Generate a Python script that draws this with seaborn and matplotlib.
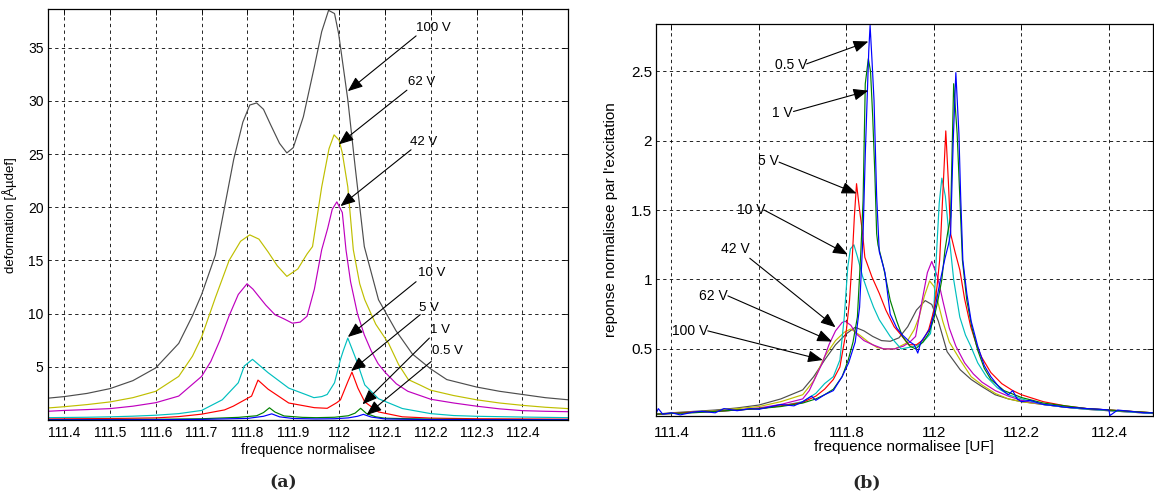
"""Réponse en fréquence : (a) déformation brute, (b) réponse normalisée par l'excitation."""

from __future__ import annotations

import matplotlib

matplotlib.use("Agg")
import matplotlib.pyplot as plt
import seaborn as sns


# ---------------------------------------------------------------- (a) déformation
A_100V_X = [111.364, 111.40, 111.45, 111.50, 111.55, 111.60, 111.65, 111.68, 111.70, 111.73, 111.75, 111.77,
            111.79, 111.805, 111.82, 111.835, 111.85, 111.87, 111.886, 111.90, 111.922, 111.946, 111.962,
            111.977, 111.99, 111.999, 112.019, 112.035, 112.055, 112.086, 112.124, 112.16, 112.20, 112.235,
            112.30, 112.35, 112.40, 112.45, 112.50]
A_100V_Y = [2.05, 2.2, 2.5, 2.95, 3.7, 4.9, 7.2, 9.8, 11.8, 15.5, 20.0, 24.5,
            28.0, 29.6, 29.8, 29.2, 27.8, 26.0, 25.1, 25.6, 28.5, 33.2, 36.5,
            38.5, 38.2, 36.3, 30.1, 23.8, 16.3, 11.3, 8.4, 6.2, 4.8, 3.8,
            3.1, 2.7, 2.4, 2.1, 1.9]

A_62V_X = [111.364, 111.40, 111.45, 111.50, 111.55, 111.60, 111.65, 111.68, 111.70, 111.73, 111.76, 111.785,
           111.805, 111.825, 111.845, 111.865, 111.886, 111.91, 111.93, 111.942, 111.962, 111.978, 111.989,
           112.0, 112.007, 112.019, 112.031, 112.045, 112.056, 112.08, 112.108, 112.13, 112.151, 112.176,
           112.20, 112.25, 112.30, 112.35, 112.40, 112.45, 112.50]
A_62V_Y = [1.13, 1.25, 1.45, 1.7, 2.1, 2.7, 4.1, 6.0, 7.8, 11.5, 15.0, 16.8,
           17.4, 17.0, 15.8, 14.5, 13.5, 14.2, 15.6, 16.3, 21.9, 25.5, 26.8,
           26.3, 25.1, 21.9, 16.0, 12.8, 11.3, 9.0, 7.2, 5.2, 3.8, 3.3,
           2.8, 2.3, 1.9, 1.6, 1.38, 1.2, 1.07]

A_42V_X = [111.364, 111.40, 111.45, 111.50, 111.55, 111.60, 111.65, 111.70, 111.72, 111.74, 111.76, 111.78,
           111.799, 111.812, 111.825, 111.84, 111.86, 111.88, 111.898, 111.915, 111.93, 111.946, 111.962,
           111.975, 111.985, 111.995, 112.007, 112.015, 112.025, 112.04, 112.055, 112.07, 112.085, 112.10,
           112.125, 112.15, 112.20, 112.25, 112.30, 112.35, 112.40, 112.45, 112.50]
A_42V_Y = [0.82, 0.9, 0.98, 1.07, 1.3, 1.63, 2.25, 4.1, 5.5, 7.5, 9.8, 11.8,
           12.8, 12.3, 11.6, 10.8, 9.9, 9.5, 9.1, 9.2, 9.75, 12.3, 16.0,
           18.0, 19.8, 20.5, 19.5, 16.0, 13.0, 10.0, 8.0, 6.5, 5.3, 4.5,
           3.4, 2.7, 1.95, 1.6, 1.3, 1.05, 0.88, 0.82, 0.78]

A_10V_X = [111.364, 111.45, 111.50, 111.55, 111.60, 111.65, 111.70, 111.745, 111.78, 111.793, 111.811, 111.845,
           111.89, 111.93, 111.945, 111.962, 111.974, 111.99, 112.003, 112.009, 112.019, 112.038, 112.056,
           112.086, 112.138, 112.20, 112.25, 112.30, 112.40, 112.50]
A_10V_Y = [0.22, 0.26, 0.3, 0.36, 0.45, 0.6, 0.9, 1.9, 3.5, 5.07, 5.7, 4.45,
           3.0, 2.35, 2.1, 2.2, 2.4, 3.5, 5.7, 6.5, 7.7, 5.6, 3.3,
           2.0, 1.08, 0.6, 0.42, 0.35, 0.28, 0.22]

A_5V_X = [111.364, 111.50, 111.60, 111.65, 111.70, 111.75, 111.769, 111.809, 111.823, 111.845, 111.89, 111.946,
          111.974, 111.995, 112.003, 112.019, 112.028, 112.041, 112.056, 112.086, 112.138, 112.20, 112.30,
          112.40, 112.50]
A_5V_Y = [0.1, 0.14, 0.2, 0.32, 0.55, 0.95, 1.3, 2.25, 3.75, 2.9, 1.6, 1.16,
          1.1, 1.63, 1.9, 3.6, 4.5, 3.0, 1.7, 0.76, 0.3, 0.18, 0.12,
          0.1, 0.08]

A_1V_X = [111.364, 111.50, 111.60, 111.70, 111.78, 111.82, 111.835, 111.848, 111.86, 111.88, 111.92, 111.95,
          111.99, 112.02, 112.035, 112.047, 112.06, 112.08, 112.10, 112.20, 112.30, 112.50]
A_1V_Y = [0.04, 0.05, 0.07, 0.12, 0.25, 0.4, 0.7, 1.15, 0.75, 0.38, 0.25, 0.22,
          0.26, 0.4, 0.65, 1.1, 0.6, 0.3, 0.17, 0.08, 0.05, 0.04]

A_05V_X = [111.364, 111.50, 111.60, 111.70, 111.80, 111.835, 111.853, 111.87, 111.90, 111.95, 111.99, 112.02,
           112.04, 112.053, 112.07, 112.10, 112.20, 112.30, 112.50]
A_05V_Y = [0.02, 0.025, 0.03, 0.06, 0.15, 0.35, 0.58, 0.3, 0.14, 0.1, 0.12, 0.2,
           0.35, 0.53, 0.28, 0.1, 0.04, 0.03, 0.02]

# ---------------------------------------------------------- (b) réponse normalisée
B_100V_X = [111.364, 111.40, 111.45, 111.50, 111.55, 111.60, 111.65, 111.70, 111.725, 111.75, 111.775, 111.80,
            111.82, 111.84, 111.86, 111.88, 111.90, 111.92, 111.94, 111.96, 111.98, 111.995, 112.01, 112.03,
            112.06, 112.085, 112.109, 112.14, 112.17, 112.20, 112.25, 112.30, 112.35, 112.40, 112.45, 112.50]
B_100V_Y = [0.03, 0.04, 0.05, 0.06, 0.075, 0.096, 0.14, 0.205, 0.30, 0.42, 0.53, 0.61,
            0.656, 0.63, 0.59, 0.56, 0.555, 0.58, 0.66, 0.78, 0.848, 0.82, 0.70, 0.48,
            0.35, 0.28, 0.23, 0.17, 0.14, 0.12, 0.10, 0.08, 0.07, 0.06, 0.05, 0.04]

B_62V_X = [111.364, 111.40, 111.45, 111.50, 111.55, 111.60, 111.65, 111.70, 111.725, 111.75, 111.775, 111.795,
           111.81, 111.83, 111.85, 111.87, 111.886, 111.91, 111.936, 111.955, 111.966, 111.978, 111.99,
           112.0, 112.008, 112.02, 112.035, 112.06, 112.085, 112.11, 112.14, 112.17, 112.20, 112.25, 112.30,
           112.35, 112.40, 112.45, 112.50]
B_62V_Y = [0.03, 0.038, 0.045, 0.055, 0.07, 0.085, 0.12, 0.17, 0.27, 0.445, 0.56, 0.62,
           0.644, 0.60, 0.55, 0.51, 0.50, 0.50, 0.54, 0.64, 0.73, 0.88, 0.99,
           0.95, 0.85, 0.70, 0.55, 0.42, 0.30, 0.24, 0.18, 0.14, 0.12, 0.10, 0.08,
           0.065, 0.055, 0.045, 0.035]

B_42V_X = [111.364, 111.40, 111.45, 111.50, 111.55, 111.60, 111.65, 111.70, 111.715, 111.73, 111.745, 111.76,
           111.775, 111.79, 111.797, 111.81, 111.822, 111.84, 111.86, 111.885, 111.91, 111.93, 111.945,
           111.958, 111.973, 111.985, 111.995, 112.008, 112.02, 112.035, 112.05, 112.07, 112.09, 112.11,
           112.14, 112.17, 112.20, 112.25, 112.30, 112.35, 112.40, 112.45, 112.50]
B_42V_Y = [0.03, 0.035, 0.045, 0.05, 0.06, 0.075, 0.10, 0.14, 0.20, 0.30, 0.40, 0.53,
           0.63, 0.69, 0.70, 0.67, 0.61, 0.56, 0.53, 0.50, 0.50, 0.52, 0.55,
           0.59, 0.85, 1.05, 1.13, 1.02, 0.85, 0.65, 0.52, 0.40, 0.32, 0.26,
           0.20, 0.16, 0.13, 0.10, 0.08, 0.065, 0.055, 0.045, 0.035]

B_10V_X = [111.364, 111.40, 111.45, 111.50, 111.55, 111.60, 111.65, 111.70, 111.73, 111.75, 111.77, 111.785,
           111.795, 111.803, 111.809, 111.817, 111.825, 111.837, 111.85, 111.862, 111.875, 111.90, 111.925,
           111.958, 111.975, 111.992, 112.0, 112.005, 112.012, 112.018, 112.026, 112.034, 112.045, 112.059,
           112.072, 112.084, 112.10, 112.12, 112.145, 112.17, 112.20, 112.25, 112.30, 112.35, 112.40, 112.45,
           112.50]
B_10V_Y = [0.03, 0.035, 0.045, 0.05, 0.06, 0.07, 0.09, 0.12, 0.18, 0.25, 0.30, 0.42,
           0.73, 1.09, 1.22, 1.25, 1.165, 1.02, 0.90, 0.80, 0.71, 0.59, 0.50,
           0.52, 0.55, 0.61, 0.80, 1.14, 1.55, 1.73, 1.60, 1.33, 1.0, 0.73,
           0.60, 0.52, 0.40, 0.30, 0.22, 0.17, 0.14, 0.10, 0.08, 0.065, 0.055, 0.045,
           0.035]

B_5V_X = [111.364, 111.40, 111.45, 111.50, 111.55, 111.60, 111.65, 111.70, 111.73, 111.75, 111.77, 111.785,
          111.80, 111.807, 111.813, 111.818, 111.823, 111.83, 111.837, 111.842, 111.858, 111.875, 111.89,
          111.909, 111.925, 111.942, 111.96, 111.975, 111.988, 112.0, 112.007, 112.013, 112.02, 112.027,
          112.033, 112.038, 112.048, 112.059, 112.07, 112.084, 112.097, 112.109, 112.13, 112.155, 112.18,
          112.20, 112.25, 112.30, 112.35, 112.40, 112.45, 112.50]
B_5V_Y = [0.03, 0.035, 0.045, 0.05, 0.06, 0.07, 0.09, 0.115, 0.16, 0.21, 0.28, 0.37,
          0.64, 0.85, 1.14, 1.45, 1.69, 1.50, 1.33, 1.16, 1.02, 0.90, 0.78,
          0.66, 0.60, 0.53, 0.53, 0.565, 0.64, 0.78, 0.95, 1.14, 1.60, 2.07,
          1.70, 1.33, 1.20, 1.07, 0.86, 0.66, 0.53, 0.44, 0.33, 0.25, 0.20,
          0.17, 0.12, 0.09, 0.07, 0.06, 0.05, 0.04]

B_1V_X = [111.364, 111.40, 111.45, 111.50, 111.55, 111.60, 111.65, 111.70, 111.73, 111.75, 111.77, 111.79,
          111.804, 111.815, 111.825, 111.833, 111.838, 111.843, 111.850, 111.855, 111.860, 111.865, 111.869,
          111.872, 111.884, 111.90, 111.915, 111.928, 111.945, 111.958, 111.975, 111.988, 112.0, 112.009,
          112.018, 112.025, 112.032, 112.038, 112.045, 112.053, 112.059, 112.065, 112.075, 112.087, 112.10,
          112.115, 112.13, 112.16, 112.20, 112.25, 112.30, 112.35, 112.40, 112.45, 112.50]
B_1V_Y = [0.03, 0.035, 0.04, 0.05, 0.06, 0.07, 0.085, 0.11, 0.14, 0.17, 0.21, 0.30,
          0.42, 0.55, 0.73, 1.21, 1.57, 2.41, 2.59, 2.50, 2.17, 1.75, 1.33,
          1.25, 1.10, 0.85, 0.70, 0.59, 0.52, 0.50, 0.55, 0.61, 0.72, 0.85,
          1.0, 1.21, 1.35, 1.45, 2.41, 2.05, 1.60, 1.14, 0.85, 0.65, 0.49,
          0.36, 0.28, 0.20, 0.15, 0.11, 0.09, 0.07, 0.06, 0.05, 0.04]

B_05V_X = [111.364, 111.37, 111.38, 111.40, 111.42, 111.45, 111.47, 111.50, 111.52, 111.55, 111.58, 111.60,
           111.65, 111.68, 111.70, 111.72, 111.73, 111.75, 111.77, 111.79, 111.805, 111.82, 111.83, 111.838,
           111.843, 111.851, 111.854, 111.858, 111.863, 111.869, 111.875, 111.888, 111.90, 111.915, 111.928,
           111.945, 111.955, 111.963, 111.97, 111.99, 112.0, 112.013, 112.025, 112.033, 112.038, 112.044,
           112.050, 112.057, 112.061, 112.066, 112.075, 112.085, 112.10, 112.115, 112.13, 112.15, 112.17,
           112.18, 112.19, 112.20, 112.22, 112.25, 112.28, 112.30, 112.33, 112.35, 112.38, 112.40, 112.402,
           112.42, 112.45, 112.48, 112.50]
B_05V_Y = [0.03, 0.07, 0.03, 0.04, 0.025, 0.045, 0.05, 0.04, 0.07, 0.055, 0.07, 0.065,
           0.10, 0.09, 0.12, 0.16, 0.13, 0.17, 0.20, 0.30, 0.40, 0.55, 0.80, 1.33,
           1.90, 2.65, 2.83, 2.60, 2.29, 1.60, 1.20, 1.05, 0.75, 0.65, 0.60,
           0.55, 0.53, 0.47, 0.55, 0.64, 0.75, 0.97, 1.15, 1.25, 1.33, 2.0,
           2.49, 2.05, 1.60, 1.14, 0.90, 0.70, 0.52, 0.38, 0.30, 0.22, 0.17,
           0.20, 0.14, 0.12, 0.13, 0.10, 0.09, 0.08, 0.075, 0.07, 0.065, 0.06, 0.02,
           0.06, 0.05, 0.04, 0.04]

VOLT_LABELS = ["100 V", "62 V", "42 V", "10 V", "5 V", "1 V", "0.5 V"]
COLORS = ["#4d4d4d", "#bfbf00", "#bf00bf", "#00bfbf", "#ff0000", "#008000", "#0000ff"]

A_SERIES = [(A_100V_X, A_100V_Y), (A_62V_X, A_62V_Y), (A_42V_X, A_42V_Y), (A_10V_X, A_10V_Y),
            (A_5V_X, A_5V_Y), (A_1V_X, A_1V_Y), (A_05V_X, A_05V_Y)]
B_SERIES = [(B_100V_X, B_100V_Y), (B_62V_X, B_62V_Y), (B_42V_X, B_42V_Y), (B_10V_X, B_10V_Y),
            (B_5V_X, B_5V_Y), (B_1V_X, B_1V_Y), (B_05V_X, B_05V_Y)]

A_XTICKS = [111.4, 111.5, 111.6, 111.7, 111.8, 111.9, 112.0, 112.1, 112.2, 112.3, 112.4]
A_YTICKS = [5, 10, 15, 20, 25, 30, 35]
B_XTICKS = [111.4, 111.6, 111.8, 112.0, 112.2, 112.4]
B_XTICKLABELS = ["111.4", "111.6", "111.8", "112", "112.2", "112.4"]
B_YTICKS = [0.5, 1.0, 1.5, 2.0, 2.5]
B_YTICKLABELS = ["0.5", "1", "1.5", "2", "2.5"]

ARROW = dict(arrowstyle="-|>,head_length=0.7,head_width=0.28", color="black", lw=0.8,
             mutation_scale=13, shrinkA=0, shrinkB=0)


def setup() -> None:
    sns.set_theme(style="white")
    plt.rcParams["font.family"] = ["Liberation Sans", "DejaVu Sans"]
    plt.rcParams["axes.edgecolor"] = "black"
    plt.rcParams["axes.linewidth"] = 0.9


def style_axes(ax, labelsize: float, xpad: float, ypad: float) -> None:
    ax.set_facecolor("white")
    ax.grid(True, color="black", linestyle=(0, (4, 4)), linewidth=0.6)
    ax.set_axisbelow(True)
    ax.tick_params(direction="in", top=True, right=True, length=4, width=0.6,
                   labelsize=labelsize, colors="black")
    ax.tick_params(axis="x", pad=xpad)
    ax.tick_params(axis="y", pad=ypad)
    for side in ax.spines.values():
        side.set_visible(True)
        side.set_color("black")


def draw_curves(ax, series) -> None:
    for (xs, ys), color in zip(series, COLORS):
        sns.lineplot(x=xs, y=ys, ax=ax, color=color, lw=0.85, sort=False, estimator=None, legend=False)


def plot_left(ax) -> None:
    draw_curves(ax, A_SERIES)
    ax.set_xlim(111.364, 112.5)
    ax.set_ylim(0.0, 38.6)
    ax.set_xticks(A_XTICKS)
    ax.set_xticklabels([f"{v:.1f}" if v != 112.0 else "112" for v in A_XTICKS])
    ax.set_yticks(A_YTICKS)
    style_axes(ax, 10, 4.5, 3)
    ax.set_xlabel("frequence normalisee", fontsize=10, color="black")
    ax.set_ylabel("deformation [Åµdef]", fontsize=9.5, color="black")
    ax.xaxis.set_label_coords(0.5, -0.055)
    ax.yaxis.set_label_coords(-0.059, 0.5)

    # (texte, position du texte, départ de la flèche, pointe)
    notes = [
        ("100 V", (112.205, 36.8), (112.168, 36.1), (112.019, 30.9)),
        ("62 V", (112.181, 31.8), (112.148, 31.0), (111.999, 25.9)),
        ("42 V", (112.185, 26.1), (112.157, 25.4), (112.003, 20.1)),
        ("10 V", (112.201, 13.8), (112.168, 13.0), (112.019, 7.8)),
        ("5 V", (112.197, 10.5), (112.177, 9.9), (112.026, 4.6)),
        ("1 V", (112.221, 8.5), (112.197, 7.7), (112.051, 1.47)),
        ("0.5 V", (112.237, 6.5), (112.201, 5.5), (112.06, 0.47)),
    ]
    for text, pos, start, tip in notes:
        ax.annotate("", xy=tip, xytext=start, arrowprops=ARROW)
        ax.text(pos[0], pos[1], text, fontsize=9.5, ha="center", va="center", color="black")


def plot_right(ax) -> None:
    draw_curves(ax, B_SERIES)
    ax.set_xlim(111.364, 112.5)
    ax.set_ylim(0.017, 2.84)
    ax.set_xticks(B_XTICKS)
    ax.set_xticklabels(B_XTICKLABELS)
    ax.set_yticks(B_YTICKS)
    ax.set_yticklabels(B_YTICKLABELS)
    style_axes(ax, 11, 7, 2.5)
    ax.set_xlabel("frequence normalisee [UF]", fontsize=11, color="black")
    ax.set_ylabel("reponse normalisee par l'excitation", fontsize=11, color="black")
    ax.xaxis.set_label_coords(0.5, -0.06)
    ax.yaxis.set_label_coords(-0.076, 0.5)

    notes = [
        ("0.5 V", (111.674, 2.546), (111.709, 2.553), (111.850, 2.714)),
        ("1 V", (111.654, 2.20), (111.679, 2.21), (111.850, 2.36)),
        ("5 V", (111.621, 1.85), (111.646, 1.845), (111.823, 1.62)),
        ("10 V", (111.583, 1.50), (111.612, 1.50), (111.803, 1.18)),
        ("42 V", (111.546, 1.22), (111.579, 1.153), (111.775, 0.656)),
        ("62 V", (111.496, 0.884), (111.529, 0.882), (111.767, 0.553)),
        ("100 V", (111.442, 0.632), (111.483, 0.63), (111.746, 0.42)),
    ]
    for text, pos, start, tip in notes:
        ax.annotate("", xy=tip, xytext=start, arrowprops=ARROW)
        ax.text(pos[0], pos[1], text, fontsize=10, ha="center", va="center", color="black")


def main() -> None:
    setup()
    fig = plt.figure(figsize=(11.54, 4.97), dpi=100)
    fig.patch.set_facecolor("white")
    ax_a = fig.add_axes([0.0413, 0.1549, 0.4511, 0.8264])
    ax_b = fig.add_axes([0.5682, 0.163, 0.4307, 0.7887])
    plot_left(ax_a)
    plot_right(ax_b)
    fig.text(283 / 1154, 1 - 483 / 497, "(a)", family="DejaVu Serif", weight="bold",
             fontsize=12.5, ha="center", va="center")
    fig.text(867 / 1154, 1 - 483 / 497, "(b)", family="DejaVu Serif", weight="bold",
             fontsize=12.5, ha="center", va="center")
    fig.savefig("out.png", dpi=100, facecolor="white")
    plt.close(fig)


if __name__ == "__main__":
    main()
